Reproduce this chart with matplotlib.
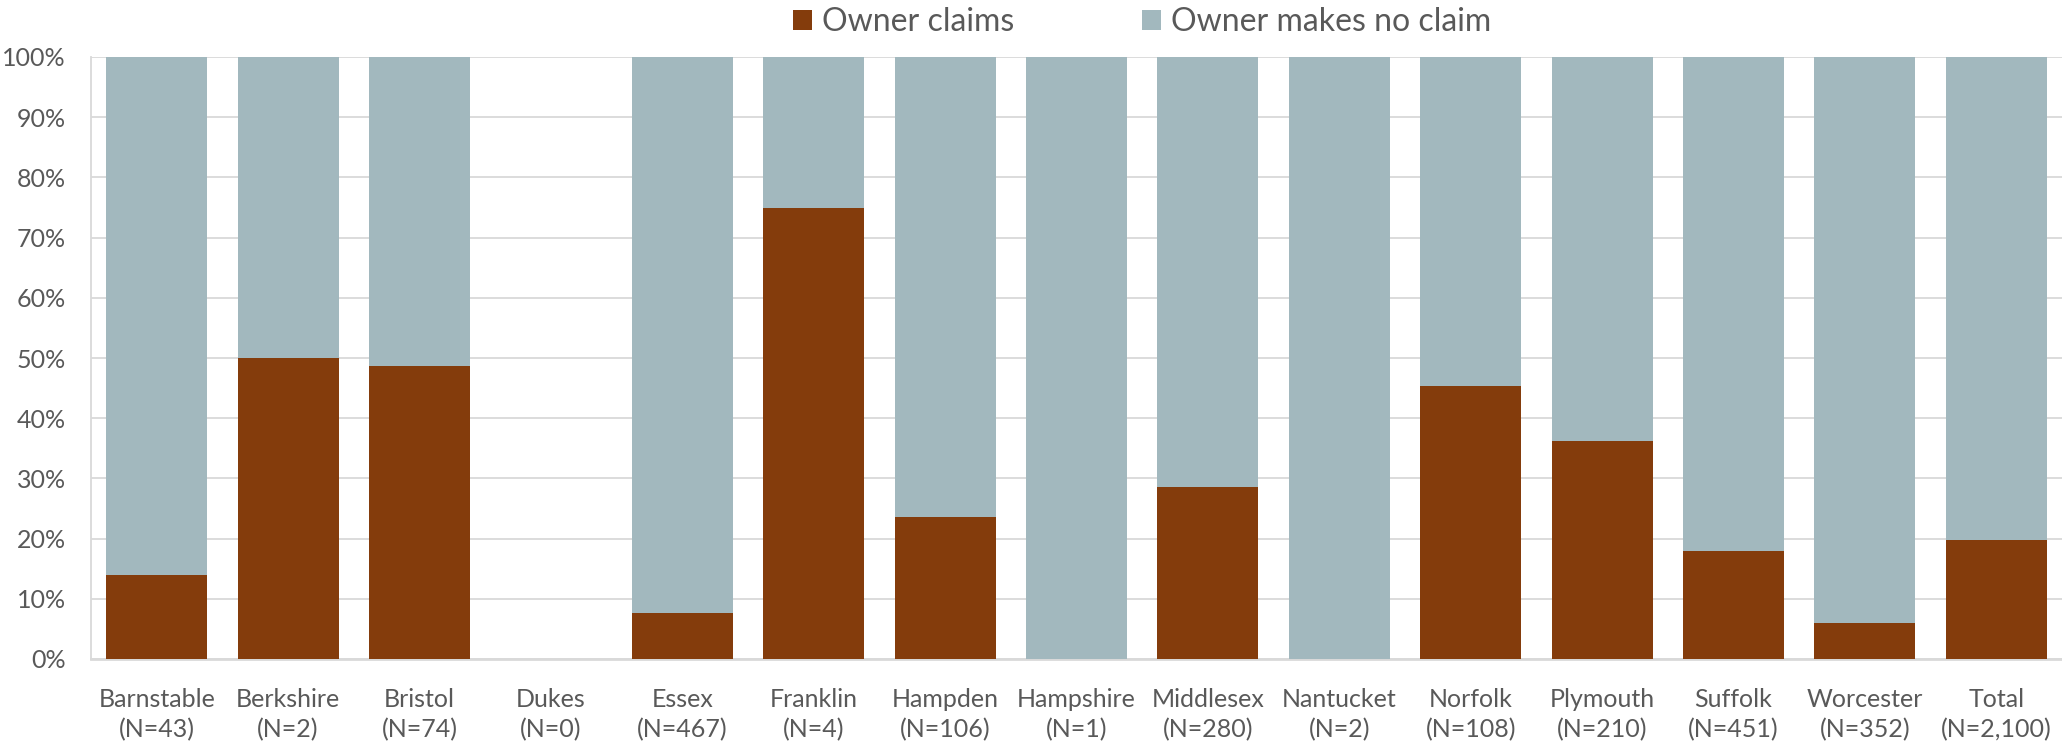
import matplotlib
matplotlib.use("Agg")
import matplotlib.pyplot as plt
import numpy as np
from matplotlib.ticker import PercentFormatter

counties = ["Barnstable", "Berkshire", "Bristol", "Dukes", "Essex", "Franklin",
            "Hampden", "Hampshire", "Middlesex", "Nantucket", "Norfolk",
            "Plymouth", "Suffolk", "Worcester", "Total"]
n_labels = ["(N=43)", "(N=2)", "(N=74)", "(N=0)", "(N=467)", "(N=4)",
            "(N=106)", "(N=1)", "(N=280)", "(N=2)", "(N=108)",
            "(N=210)", "(N=451)", "(N=352)", "(N=2,100)"]
owner_claims = [13.95, 50.0, 48.65, 0.0, 7.7, 75.0, 23.6, 0.0, 28.6, 0.0,
                45.4, 36.2, 18.0, 6.0, 19.7]
no_claim = [86.05, 50.0, 51.35, 0.0, 92.3, 25.0, 76.4, 100.0, 71.4, 100.0,
            54.6, 63.8, 82.0, 94.0, 80.3]

BROWN = "#843C0C"
GREY = "#A2B8BE"
TXT = "#595959"
GRID = "#D9D9D9"

plt.rcParams['font.family'] = ['Lato', 'DejaVu Sans']

fig = plt.figure(figsize=(20.62, 7.42), dpi=100)
ax = fig.add_axes([91/2062, 1-659/742, (2062-91)/2062, (659-57)/742])

x = np.arange(len(counties))
w = 0.77
b1 = ax.bar(x, owner_claims, w, color=BROWN, label="Owner claims", zorder=3)
b2 = ax.bar(x, no_claim, w, bottom=owner_claims, color=GREY,
            label="Owner makes no claim", zorder=3)

ax.set_xlim(-0.5, len(counties) - 0.5)
ax.set_ylim(0, 100)
ax.set_yticks(np.arange(0, 101, 10))
ax.yaxis.set_major_formatter(PercentFormatter(decimals=0))
ax.yaxis.grid(True, color=GRID, linewidth=1.3, zorder=0)
ax.set_axisbelow(True)

ax.set_xticks(x)
ax.set_xticklabels([f"{c}\n{n}" for c, n in zip(counties, n_labels)],
                   linespacing=1.35)
ax.tick_params(axis='x', length=0, pad=21, labelsize=18, labelcolor=TXT)
ax.tick_params(axis='y', length=0, pad=18, labelsize=18, labelcolor=TXT)

for s in ['top', 'right']:
    ax.spines[s].set_visible(False)
ax.spines['left'].set_color(GRID)
ax.spines['left'].set_linewidth(1.3)
ax.spines['bottom'].set_color(GRID)
ax.spines['bottom'].set_linewidth(2)

leg = fig.legend(handles=[b1, b2], loc='center',
                 bbox_to_anchor=(1142/2062, 1-22/742), ncol=2, frameon=False,
                 fontsize=23, handlelength=0.6, handleheight=0.6,
                 handletextpad=0.3, columnspacing=4.0)
for t in leg.get_texts():
    t.set_color(TXT)

fig.savefig("out.png", dpi=100)
